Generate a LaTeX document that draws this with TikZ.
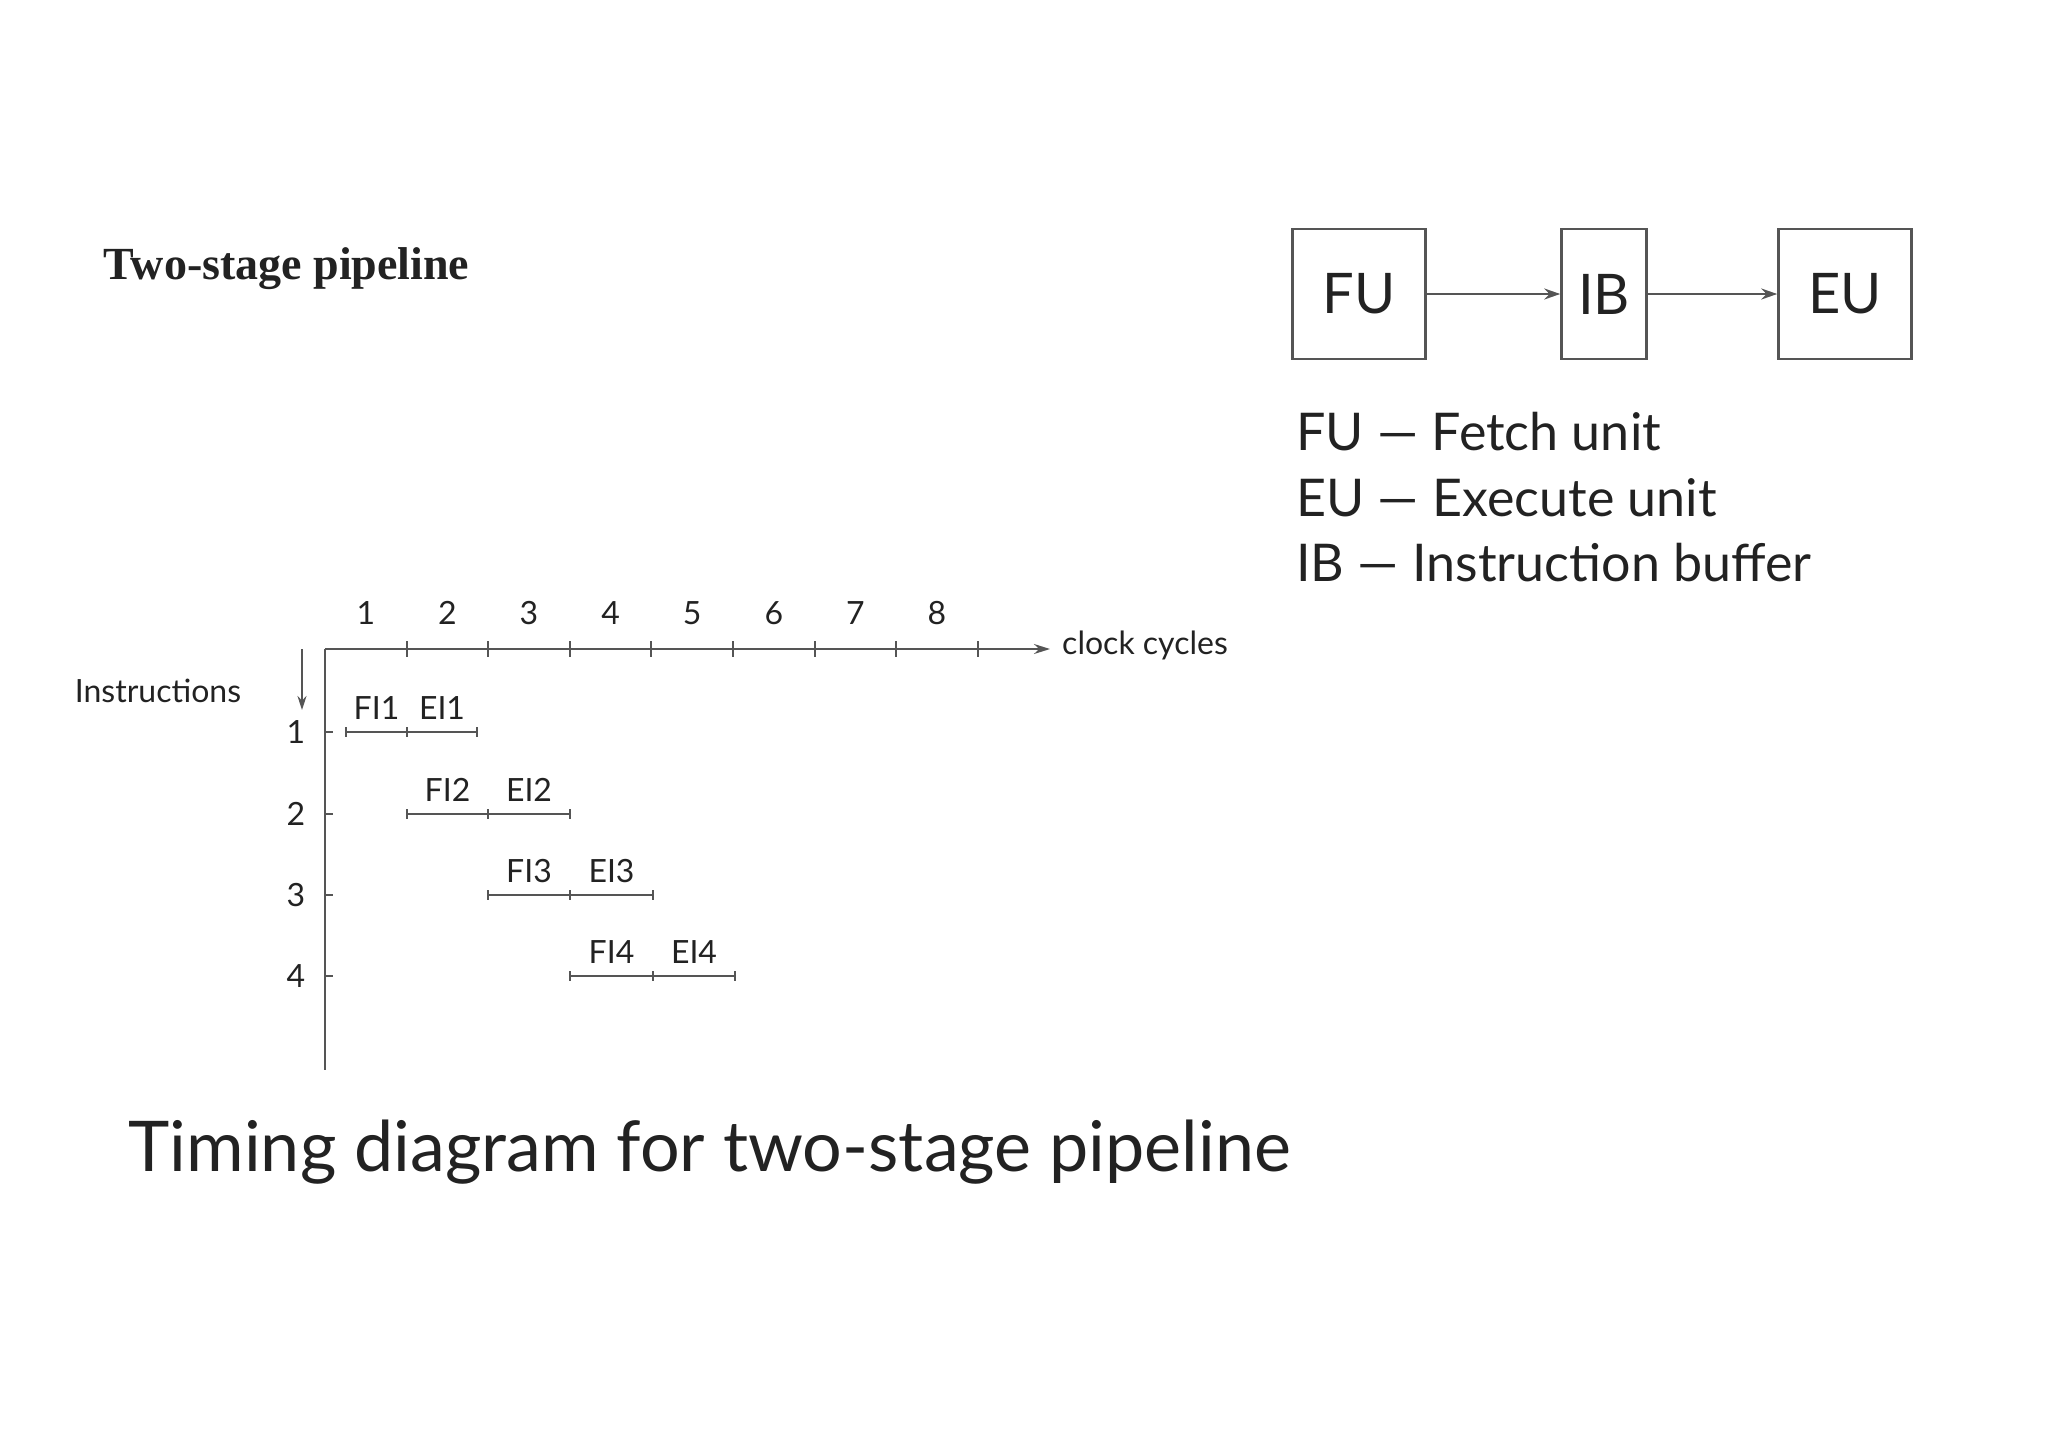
\documentclass[tikz,border=0pt]{standalone}
\usepackage{fontspec}
\setmainfont{Lato}
\newfontfamily\titlefont{Liberation Serif}
\usetikzlibrary{arrows.meta}
\definecolor{ln}{HTML}{555555}
\definecolor{tx}{HTML}{222222}
\begin{document}
\begin{tikzpicture}[x=1pt,y=-1pt,
  unitbox/.style={draw=ln,line width=2.5pt,minimum height=130pt,inner sep=0pt,font=\fontsize{56}{60}\selectfont,text=tx},
  conn/.style={ln,line width=2.5pt,-{Stealth[length=16pt,width=11pt]}},
  axis/.style={ln,line width=2pt},
  bar/.style={ln,line width=2.5pt},
  lbl/.style={font=\fontsize{32}{36}\selectfont,text=tx,inner sep=0pt},
  leg/.style={font=\fontsize{52}{56}\selectfont,text=tx,anchor=west,inner sep=0pt}]
\useasboundingbox (0,0) rectangle (2048,1448);
\node[font=\titlefont\bfseries\fontsize{46}{50}\selectfont,anchor=west,text=tx] (title) at (100,269) {Two-stage pipeline};
% blocks
\node[unitbox,minimum width=133pt] (fu) at (1359,294) {FU};
\node[unitbox,minimum width=85pt] (ib) at (1604,294) {IB};
\node[unitbox,minimum width=133pt] (eu) at (1845,294) {EU};
\draw[conn] (fu) -- (ib);
\draw[conn] (ib) -- (eu);
\node[leg] (l1) at (1296,432) {FU — Fetch unit};
\node[leg] (l2) at (1296,498) {EU — Execute unit};
\node[leg] (l3) at (1296,563) {IB — Instruction buffer};
% axes
\coordinate (o) at (325,649);
\coordinate (xe) at (1050,649);
\coordinate (ye) at (325,1070);
\draw[axis,-{Stealth[length=16pt,width=10pt]}] (o) -- (xe);
\draw[axis] (o) -- (ye);
\node[lbl,anchor=west] (cc) at (1062,645) {clock cycles};
\foreach \i in {1,...,8}{
  \pgfmathsetmacro\tx{325+81.6*\i}
  \draw[axis] (\tx,641) -- (\tx,657);
  \pgfmathsetmacro\cx{325+81.6*\i-40.8}
  \node[lbl] (n\i) at (\cx,613) {\i};
}
\node[lbl] (instr) at (158,691) {Instructions};
\coordinate (ia) at (302,649);
\coordinate (ib2) at (302,710);
\draw[ln,line width=2pt,-{Stealth[length=14pt,width=9pt]}] (ia) -- (ib2);
\foreach \r/\y in {1/732,2/814,3/895,4/976}{
  \draw[axis] (325,\y) -- (333,\y);
  \node[lbl] (r\r) at (296,\y) {\r};
}
% bars
\foreach \r/\y/\a/\b/\c in {1/732/346/407/477,2/814/407/488/570,3/895/488/570/653,4/976/570/653/735}{
  \draw[bar] (\a,\y) -- (\c,\y);
  \draw[bar] (\a,\y-5) -- (\a,\y+5);
  \draw[bar] (\b,\y-5) -- (\b,\y+5);
  \draw[bar] (\c,\y-5) -- (\c,\y+5);
  \node[lbl] (f\r) at ({(\a+\b)/2},\y-24) {FI\r};
  \node[lbl] (e\r) at ({(\b+\c)/2},\y-24) {EI\r};
}
\node[font=\fontsize{70}{74}\selectfont,text=tx,anchor=west] (cap) at (125,1152) {Timing diagram for two-stage pipeline};
\end{tikzpicture}
\end{document}
